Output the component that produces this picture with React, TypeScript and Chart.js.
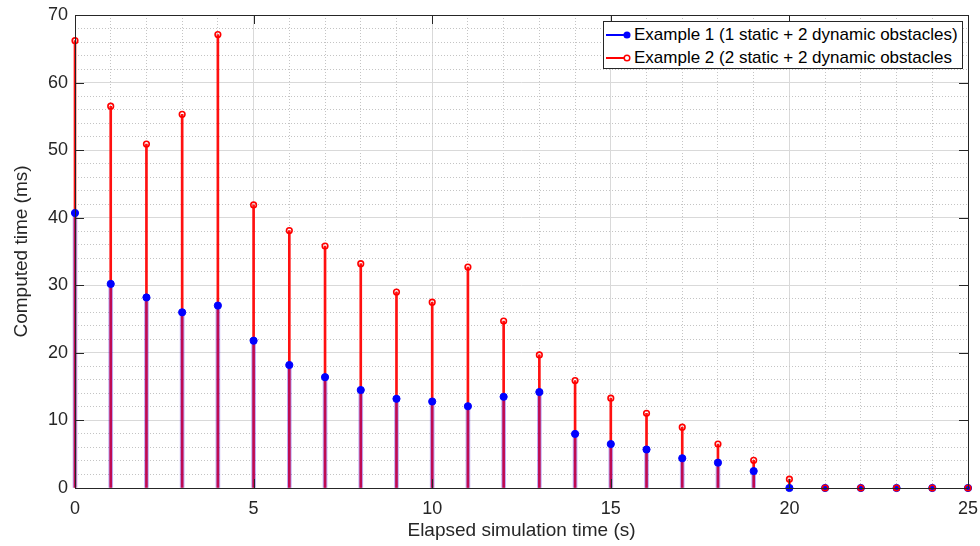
import React, { useEffect, useRef } from 'react';
import { Chart, registerables } from 'chart.js';

Chart.register(...registerables);

const timeSeconds = [0, 1, 2, 3, 4, 5, 6, 7, 8, 9, 10, 11, 12, 13, 14, 15, 16, 17, 18, 19, 20, 21, 22, 23, 24, 25];
const example1Ms = [40.7, 30.2, 28.2, 26.0, 27.0, 21.8, 18.2, 16.4, 14.5, 13.2, 12.8, 12.1, 13.5, 14.2, 8.0, 6.5, 5.7, 4.4, 3.75, 2.5, 0, 0, 0, 0, 0, 0];
const example2Ms = [66.2, 56.5, 50.9, 55.3, 67.1, 41.9, 38.1, 35.8, 33.2, 29.0, 27.5, 32.7, 24.7, 19.7, 15.9, 13.3, 11.05, 9.0, 6.5, 4.1, 1.3, 0, 0, 0, 0, 0];
const xMajorTicks = [0, 5, 10, 15, 20, 25];
const yMajorTicks = [0, 10, 20, 30, 40, 50, 60, 70];
const legendLabels = [
  'Example 1 (1 static + 2 dynamic obstacles)',
  'Example 2 (2 static + 2 dynamic obstacles',
];

const FONT = "'Liberation Sans', Arial, Helvetica, sans-serif";
const AXIS = '#262626';

const framePlugin = {
  id: 'matlabFrame',
  afterDatasetsDraw(chart: any) {
    const { ctx, chartArea, scales } = chart;
    const { left, right, top, bottom } = chartArea;
    const tl = 9;
    ctx.save();
    ctx.strokeStyle = AXIS;
    ctx.lineWidth = 1;
    ctx.beginPath();
    ctx.rect(Math.round(left) + 0.5, Math.round(top) + 0.5, Math.round(right - left), Math.round(bottom - top));
    ctx.stroke();
    ctx.beginPath();
    xMajorTicks.forEach((v) => {
      const px = Math.round(scales.x.getPixelForValue(v)) + 0.5;
      ctx.moveTo(px, bottom);
      ctx.lineTo(px, bottom - tl);
      ctx.moveTo(px, top);
      ctx.lineTo(px, top + tl);
    });
    yMajorTicks.forEach((v) => {
      const py = Math.round(scales.y.getPixelForValue(v)) + 0.5;
      ctx.moveTo(left, py);
      ctx.lineTo(left + tl, py);
      ctx.moveTo(right, py);
      ctx.lineTo(right - tl, py);
    });
    ctx.stroke();
    ctx.restore();
  },
};

function LegendSample({ color, filled }: { color: string; filled: boolean }) {
  return (
    <svg width={28} height={12} style={{ display: 'block' }}>
      <line x1={1} y1={6} x2={22} y2={6} stroke={color} strokeWidth={2} />
      <circle cx={22} cy={6} r={2.8} fill={filled ? color : 'white'} stroke={color} strokeWidth={1.5} />
    </svg>
  );
}

const zeroPad = (s: any) => {
  s.paddingLeft = 0;
  s.paddingRight = 0;
  s.paddingTop = 0;
  s.paddingBottom = 0;
};

export default function App() {
  const canvasRef = useRef<HTMLCanvasElement | null>(null);

  useEffect(() => {
    const canvas = canvasRef.current;
    if (!canvas) return;
    const pts1 = timeSeconds.map((t, i) => ({ x: t, y: example1Ms[i] }));
    const pts2 = timeSeconds.map((t, i) => ({ x: t, y: example2Ms[i] }));

    const chart = new Chart(canvas, {
      type: 'scatter',
      data: {
        datasets: [
          {
            type: 'bar',
            label: 'stem2',
            data: pts2,
            backgroundColor: '#ff1010',
            borderWidth: 0,
            barThickness: 2,
            grouped: false,
            clip: false,
            order: 6,
          } as any,
          {
            type: 'bar',
            label: 'stem1',
            data: pts1,
            backgroundColor: 'rgba(60,0,220,0.33)',
            borderWidth: 0,
            barThickness: 4,
            grouped: false,
            clip: false,
            order: 5,
          } as any,
          {
            type: 'scatter',
            label: legendLabels[0],
            data: pts1,
            pointRadius: 3.6,
            pointBackgroundColor: '#0000ff',
            pointBorderColor: '#0000ff',
            pointBorderWidth: 1,
            showLine: false,
            clip: false,
            order: 3,
          } as any,
          {
            type: 'scatter',
            label: legendLabels[1],
            data: pts2,
            pointRadius: 2.8,
            pointBackgroundColor: 'rgba(255,255,255,0)',
            pointBorderColor: '#ff0000',
            pointBorderWidth: 1.6,
            showLine: false,
            clip: false,
            order: 2,
          } as any,
        ],
      },
      options: {
        animation: false,
        responsive: false,
        devicePixelRatio: 1,
        layout: { padding: { left: 0, right: 12, top: 15, bottom: 0 } },
        plugins: {
          legend: { display: false },
          tooltip: { enabled: false },
        },
        scales: {
          x: {
            type: 'linear',
            min: 0,
            max: 25,
            offset: false,
            afterFit: (s: any) => {
              s.height = 58;
              zeroPad(s);
            },
            ticks: {
              stepSize: 1,
              autoSkip: false,
              maxRotation: 0,
              padding: 10,
              color: AXIS,
              font: { family: FONT, size: 18 },
              callback: (v: any) => (Number(v) % 5 === 0 ? String(v) : ''),
            },
            grid: {
              offset: false,
              drawTicks: false,
              color: (c: any) => (c.tick && c.tick.value % 5 === 0 ? '#d9d9d9' : '#c4c4c4'),
              lineWidth: 1,
            },
            border: {
              display: false,
              dash: (c: any) => (c.tick && c.tick.value % 5 === 0 ? [] : [1, 2]),
            } as any,
            title: {
              display: true,
              text: 'Elapsed simulation time (s)',
              color: AXIS,
              font: { family: FONT, size: 19 },
              padding: { top: 0, bottom: 4 },
            },
          },
          y: {
            type: 'linear',
            min: 0,
            max: 70,
            afterFit: (s: any) => {
              s.width = 75;
              zeroPad(s);
            },
            ticks: {
              stepSize: 2,
              autoSkip: false,
              padding: 7,
              color: AXIS,
              font: { family: FONT, size: 18 },
              callback: (v: any) => (Number(v) % 10 === 0 ? String(v) : ''),
            },
            grid: {
              drawTicks: false,
              color: (c: any) => (c.tick && c.tick.value % 10 === 0 ? '#d9d9d9' : '#c4c4c4'),
              lineWidth: 1,
            },
            border: {
              display: false,
              dash: (c: any) => (c.tick && c.tick.value % 10 === 0 ? [] : [1, 2]),
            } as any,
            title: {
              display: true,
              text: 'Computed time (ms)',
              color: AXIS,
              font: { family: FONT, size: 19 },
              padding: { top: 10, bottom: 0 },
            },
          },
        },
      } as any,
      plugins: [framePlugin],
    });
    return () => chart.destroy();
  }, []);

  return (
    <div style={{ position: 'absolute', left: 0, top: 0, width: 980, height: 546, background: 'white' }}>
      <canvas ref={canvasRef} width={980} height={546} style={{ width: 980, height: 546, display: 'block' }} />
      <div
        style={{
          position: 'absolute',
          left: 603,
          top: 21,
          width: 358,
          height: 46,
          border: `1px solid ${AXIS}`,
          background: 'white',
          fontFamily: FONT,
          fontSize: 17,
          color: '#000',
        }}
      >
        {[{ c: '#0000ff', f: true }, { c: '#ff0000', f: false }].map((s, i) => (
          <div
            key={i}
            style={{ position: 'absolute', left: 1, top: i === 0 ? 3 : 26, height: 20, display: 'flex', alignItems: 'center', whiteSpace: 'nowrap' }}
          >
            <LegendSample color={s.c} filled={s.f} />
            <span style={{ marginLeft: 1, lineHeight: '20px' }}>{legendLabels[i]}</span>
          </div>
        ))}
      </div>
    </div>
  );
}
